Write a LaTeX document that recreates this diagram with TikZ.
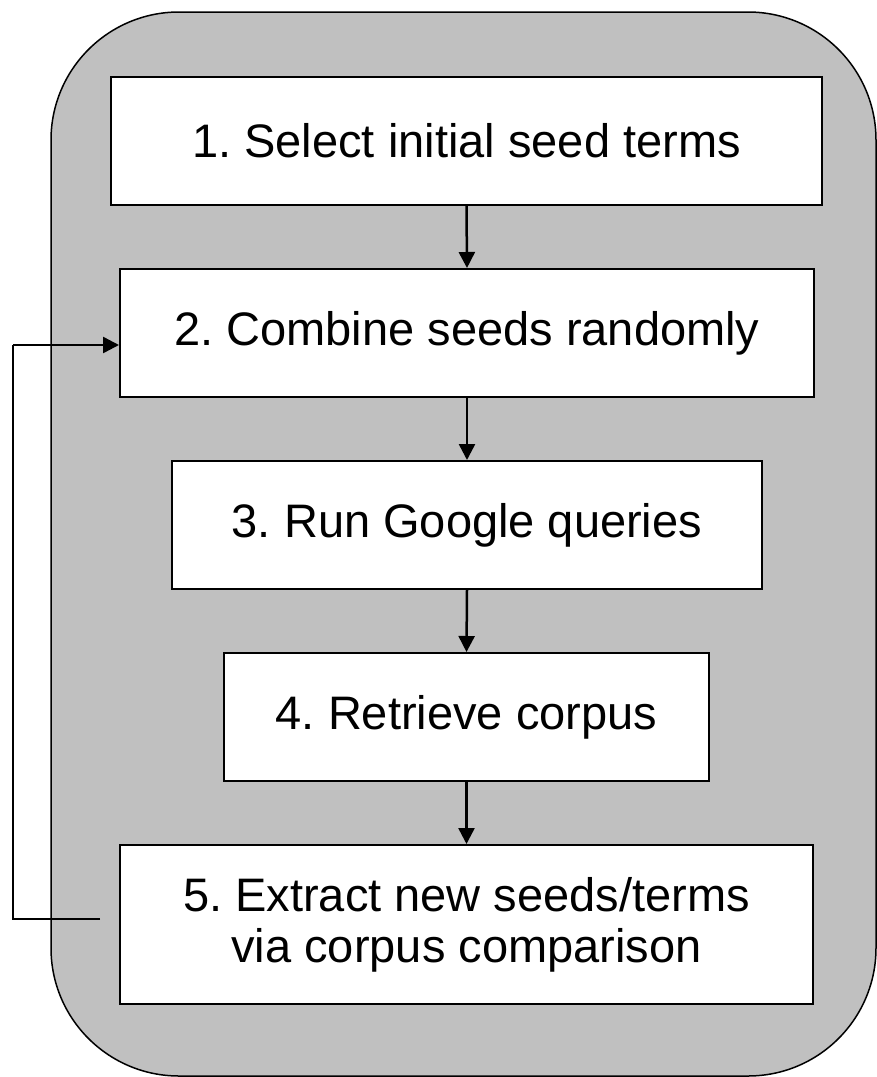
\documentclass[tikz,border=0pt]{standalone}
\usepackage{fontspec}
\setmainfont{Liberation Sans}
\usetikzlibrary{arrows.meta}
\definecolor{panelgray}{HTML}{C0C0C0}
\frenchspacing
\begin{document}
\begin{tikzpicture}[x=1pt,y=-1pt,
  stepbox/.style={draw=black,line width=2pt,fill=white,inner sep=0pt,align=center,
    font=\fontsize{47}{51}\selectfont\frenchspacing},
  flow/.style={line width=2.5pt,-{Triangle[width=16pt,length=16pt]}},
  loopline/.style={line width=2.5pt}]
\useasboundingbox (0,0) rectangle (877,1077);
\draw[fill=panelgray,line width=1.5pt,rounded corners=128pt] (51,12) rectangle (876,1076);
\node[stepbox,minimum width=711pt,minimum height=128pt] (b1) at (466.5,141) {1. Select initial seed terms};
\node[stepbox,minimum width=694pt,minimum height=128pt] (b2) at (467,333) {2. Combine seeds randomly};
\node[stepbox,minimum width=590pt,minimum height=128pt] (b3) at (467,525) {3. Run Google queries};
\node[stepbox,minimum width=485pt,minimum height=128pt] (b4) at (466.5,717) {4. Retrieve corpus};
\node[stepbox,minimum width=693pt,minimum height=159pt] (b5) at (466.5,924.5) {5. Extract new seeds/terms\\ via corpus comparison};
\draw[flow] (b1.south) -- (b2.north);
\draw[flow] (b2.south) -- (b3.north);
\draw[flow] (b3.south) -- (b4.north);
\draw[flow] (b4.south) -- (b5.north);
\coordinate (fbstart) at (100,919);
\coordinate (fbcorner) at (13,919);
\draw[loopline,line join=miter] (fbstart) -- (fbcorner) -- (fbcorner |- 0,345) coordinate (fbtop);
\draw[flow] (fbtop) -- ([yshift=-12pt]b2.west);
\end{tikzpicture}
\end{document}
